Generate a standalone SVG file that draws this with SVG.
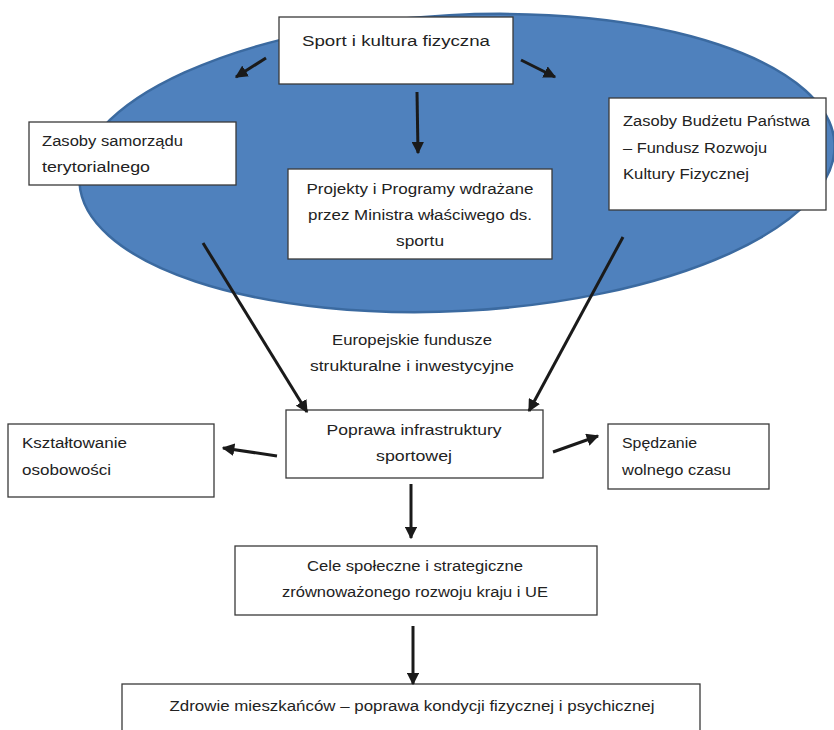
<svg xmlns="http://www.w3.org/2000/svg" width="834" height="730" viewBox="0 0 834 730">
<defs>
<marker id="ah" viewBox="0 0 10 10" refX="9" refY="5" markerWidth="4.2" markerHeight="4.2" markerUnits="strokeWidth" orient="auto">
<path d="M0,0 L10,5 L0,10 Z" fill="#1a1a1a"/>
</marker>
<style>
.box{fill:#fff;stroke:#3a3a3a;stroke-width:1.3}
.t{font-family:"Liberation Sans",Arial,sans-serif;font-size:15.5px;fill:#222}
.c{text-anchor:middle}
.a{stroke:#1a1a1a;stroke-width:3;fill:none;marker-end:url(#ah)}
</style>
</defs>
<rect width="834" height="730" fill="#fff"/>
<ellipse id="ellipse" cx="457" cy="163" rx="378" ry="148" transform="rotate(-3 457 163)" fill="#4F81BD" stroke="#3B6AA0" stroke-width="2.5"/>

<g id="sport">
<rect class="box" x="279" y="17" width="234" height="67"/>
<text class="t c" x="396" y="46" textLength="188" lengthAdjust="spacingAndGlyphs">Sport i kultura fizyczna</text>
</g>
<g id="samorzad">
<rect class="box" x="29" y="122" width="207" height="63"/>
<text class="t" x="42" y="146" textLength="141" lengthAdjust="spacingAndGlyphs">Zasoby samorządu</text>
<text class="t" x="42" y="172" textLength="108" lengthAdjust="spacingAndGlyphs">terytorialnego</text>
</g>
<g id="projekty">
<rect class="box" x="288" y="169" width="264" height="90"/>
<text class="t c" x="420" y="194" textLength="227" lengthAdjust="spacingAndGlyphs">Projekty i Programy wdrażane</text>
<text class="t c" x="420" y="220" textLength="224" lengthAdjust="spacingAndGlyphs">przez Ministra właściwego ds.</text>
<text class="t c" x="420" y="246" textLength="48" lengthAdjust="spacingAndGlyphs">sportu</text>
</g>
<g id="budzet">
<rect class="box" x="609" y="98" width="217" height="112"/>
<text class="t" x="623" y="126" textLength="187" lengthAdjust="spacingAndGlyphs">Zasoby Budżetu Państwa</text>
<text class="t" x="623" y="153" textLength="144" lengthAdjust="spacingAndGlyphs">– Fundusz Rozwoju</text>
<text class="t" x="623" y="179" textLength="126" lengthAdjust="spacingAndGlyphs">Kultury Fizycznej</text>
</g>
<g id="europejskie">
<text class="t c" x="412" y="345" textLength="160" lengthAdjust="spacingAndGlyphs">Europejskie fundusze</text>
<text class="t c" x="412" y="371" textLength="204" lengthAdjust="spacingAndGlyphs">strukturalne i inwestycyjne</text>
</g>
<g id="poprawa">
<rect class="box" x="286" y="410" width="257" height="68"/>
<text class="t c" x="414" y="435" textLength="175" lengthAdjust="spacingAndGlyphs">Poprawa infrastruktury</text>
<text class="t c" x="414" y="461" textLength="76" lengthAdjust="spacingAndGlyphs">sportowej</text>
</g>
<g id="ksztaltowanie">
<rect class="box" x="8" y="424" width="206" height="73"/>
<text class="t" x="22" y="448" textLength="105" lengthAdjust="spacingAndGlyphs">Kształtowanie</text>
<text class="t" x="22" y="475" textLength="89" lengthAdjust="spacingAndGlyphs">osobowości</text>
</g>
<g id="spedzanie">
<rect class="box" x="608" y="424" width="161" height="65"/>
<text class="t" x="622" y="448" textLength="75" lengthAdjust="spacingAndGlyphs">Spędzanie</text>
<text class="t" x="622" y="475" textLength="109" lengthAdjust="spacingAndGlyphs">wolnego czasu</text>
</g>
<g id="cele">
<rect class="box" x="235" y="546" width="362" height="69"/>
<text class="t c" x="415" y="571" textLength="216" lengthAdjust="spacingAndGlyphs">Cele społeczne i strategiczne</text>
<text class="t c" x="415" y="597" textLength="266" lengthAdjust="spacingAndGlyphs">zrównoważonego rozwoju kraju i UE</text>
</g>
<g id="zdrowie">
<rect class="box" x="122" y="684" width="578" height="60"/>
<text class="t c" x="412" y="711" textLength="485" lengthAdjust="spacingAndGlyphs">Zdrowie mieszkańców – poprawa kondycji fizycznej i psychicznej</text>
</g>

<g id="connectors">
<line class="a" x1="266" y1="58" x2="236" y2="77"/>
<line class="a" x1="521" y1="60" x2="555" y2="77"/>
<line class="a" x1="417" y1="92" x2="418" y2="153"/>
<line class="a" x1="203" y1="243" x2="307" y2="412"/>
<line class="a" x1="623" y1="237" x2="529" y2="411"/>
<line class="a" x1="277" y1="456" x2="223" y2="448"/>
<line class="a" x1="553" y1="452" x2="598" y2="436"/>
<line class="a" x1="411" y1="484" x2="411" y2="538"/>
<line class="a" x1="413" y1="626" x2="413" y2="684"/>
</g>
</svg>
